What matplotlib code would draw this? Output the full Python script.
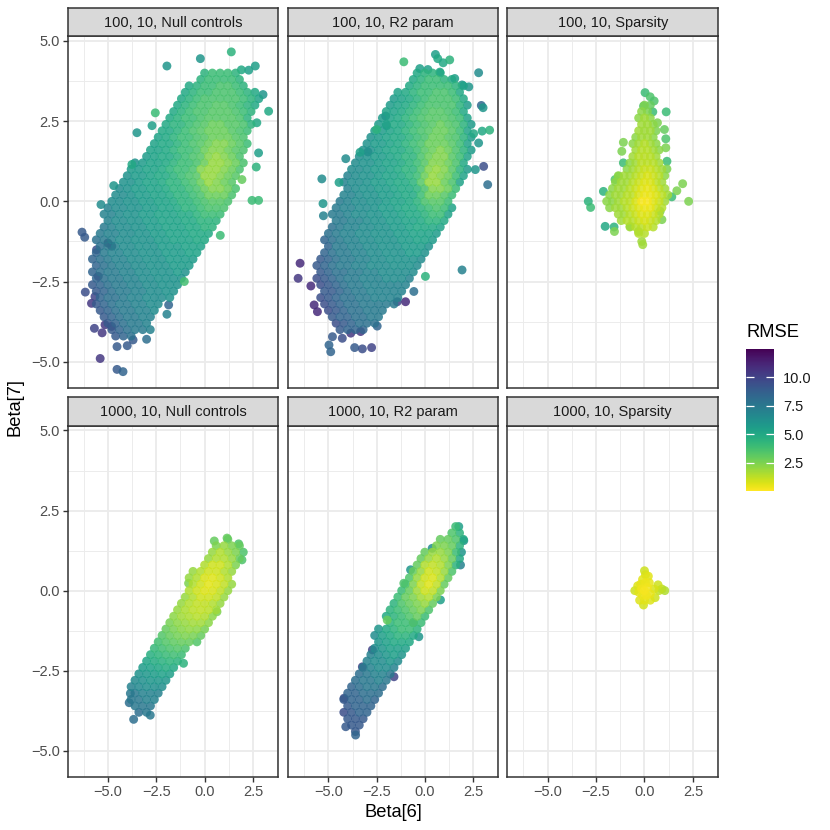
import numpy as np
import matplotlib
matplotlib.use("Agg")
import matplotlib.pyplot as plt
from matplotlib.colors import Normalize
from matplotlib.cm import ScalarMappable

plt.rcParams['font.family'] = ['Liberation Sans', 'DejaVu Sans']

# facet labels, row-major
panel_labels = ["100, 10, Null controls", "100, 10, R2 param", "100, 10, Sparsity",
                "1000, 10, Null controls", "1000, 10, R2 param", "1000, 10, Sparsity"]

x_ticks = [-5.0, -2.5, 0.0, 2.5]
x_tick_labels = ["\u22125.0", "\u22122.5", "0.0", "2.5"]
y_ticks = [-5.0, -2.5, 0.0, 2.5, 5.0]
y_tick_labels = ["\u22125.0", "\u22122.5", "0.0", "2.5", "5.0"]
cbar_ticks = [2.5, 5.0, 7.5, 10.0]
cbar_labels = ["2.5", "5.0", "7.5", "10.0"]
rmse_range = (0.03, 12.5)

# point clouds: (beta7, [beta6 ...], [rmse ...]) per row
nc100_rows = [
    (4.0, [0.0, 0.4, 0.8, 1.2, 1.6], [4.5, 4, 4, 4, 4.5]),
    (3.8, [-0.2, 0.2, 0.6, 1.0, 1.4, 1.8], [4.5, 4, 4, 4, 4, 4.5]),
    (3.6, [-0.8, -0.4, 0.0, 0.4, 0.8, 1.2, 1.6, 2.0], [5, 4.5, 4, 4, 3.6, 3.6, 4, 4.5]),
    (3.4, [-1.0, -0.6, -0.2, 0.2, 0.6, 1.0, 1.4, 1.8, 2.2, 2.6], [5, 4.5, 4, 4, 3.6, 3.6, 3.6, 4, 4.5, 5]),
    (3.2, [-1.2, -0.8, -0.4, 0.0, 0.4, 0.8, 1.2, 1.6, 2.0, 2.4, 2.8], [5, 4.5, 4, 3.6, 3.6, 3.6, 3.6, 3.6, 4, 4.5, 5.3]),
    (3.0, [-1.4, -1.0, -0.6, -0.2, 0.2, 0.6, 1.0, 1.4, 1.8, 2.2, 2.6], [5, 4.5, 4, 3.6, 3.6, 3.3, 3.3, 3.6, 4, 4.5, 5]),
    (2.8, [-1.6, -1.2, -0.8, -0.4, 0.0, 0.4, 0.8, 1.2, 1.6, 2.0, 2.4], [5, 4.5, 4, 3.6, 3.6, 3.3, 3.3, 3.3, 3.6, 4, 4.5]),
    (2.6, [-1.8, -1.4, -1.0, -0.6, -0.2, 0.2, 0.6, 1.0, 1.4, 1.8, 2.2], [5, 4.5, 4, 4, 3.6, 3.3, 3.3, 3.3, 3.3, 3.6, 4.5]),
    (2.4, [-2.0, -1.6, -1.2, -0.8, -0.4, 0.0, 0.4, 0.8, 1.2, 1.6, 2.0, 2.4], [5, 4.5, 4.5, 4, 3.6, 3.3, 2.9, 2.9, 3.3, 3.3, 3.6, 4.5]),
    (2.2, [-2.2, -1.8, -1.4, -1.0, -0.6, -0.2, 0.2, 0.6, 1.0, 1.4, 1.8, 2.2], [5, 5, 4.5, 4, 3.6, 3.3, 2.9, 2.9, 2.9, 3.3, 3.6, 4]),
    (2.0, [-2.4, -2.0, -1.6, -1.2, -0.8, -0.4, 0.0, 0.4, 0.8, 1.2, 1.6, 2.0], [5.3, 5, 4.5, 4, 4, 3.6, 3.3, 2.9, 2.9, 2.9, 3.3, 3.6]),
    (1.8, [-2.6, -2.2, -1.8, -1.4, -1.0, -0.6, -0.2, 0.2, 0.6, 1.0, 1.4, 1.8, 2.2], [5.3, 5, 5, 4.5, 4, 3.6, 3.3, 2.9, 2.4, 2.4, 2.9, 3.3, 4]),
    (1.6, [-2.8, -2.4, -2.0, -1.6, -1.2, -0.8, -0.4, 0.0, 0.4, 0.8, 1.2, 1.6, 2.0], [5.3, 5.3, 5, 4.5, 4, 4, 3.6, 2.9, 2.4, 2.4, 2.9, 3.3, 3.6]),
    (1.4, [-3.0, -2.6, -2.2, -1.8, -1.4, -1.0, -0.6, -0.2, 0.2, 0.6, 1.0, 1.4, 1.8], [5.7, 5.3, 5, 5, 4.5, 4, 3.6, 3.3, 2.4, 2, 2.4, 2.9, 3.6]),
    (1.2, [-3.6, -3.2, -2.8, -2.4, -2.0, -1.6, -1.2, -0.8, -0.4, 0.0, 0.4, 0.8, 1.2, 1.6, 2.0], [6.2, 5.7, 5.3, 5.3, 5, 4.5, 4, 4, 3.6, 2.9, 2, 2, 2.4, 2.9, 3.6]),
    (1.0, [-3.8, -3.4, -3.0, -2.6, -2.2, -1.8, -1.4, -1.0, -0.6, -0.2, 0.2, 0.6, 1.0, 1.4, 1.8], [5.7, 5.7, 5.3, 5.3, 5, 4.5, 4, 4, 3.6, 2.4, 2, 2, 2.4, 2.9, 3.6]),
    (0.8, [-4.0, -3.6, -3.2, -2.8, -2.4, -2.0, -1.6, -1.2, -0.8, -0.4, 0.0, 0.4, 0.8, 1.2, 1.6], [6.2, 5.7, 5.7, 5.3, 5, 5, 4.5, 4, 3.6, 3.3, 2, 2, 2.4, 2.9, 3.3]),
    (0.6, [-4.2, -3.8, -3.4, -3.0, -2.6, -2.2, -1.8, -1.4, -1.0, -0.6, -0.2, 0.2, 0.6, 1.0, 1.4], [6.2, 6.2, 5.7, 5.3, 5.3, 5, 4.5, 4.5, 4, 3.6, 2.9, 2, 2.4, 2.9, 3.3]),
    (0.4, [-4.4, -4.0, -3.6, -3.2, -2.8, -2.4, -2.0, -1.6, -1.2, -0.8, -0.4, 0.0, 0.4, 0.8, 1.2, 1.6], [6.5, 6.2, 5.7, 5.7, 5.3, 5.3, 5, 4.5, 4.5, 4, 3.6, 2.9, 2.4, 2.4, 2.9, 3.6]),
    (0.2, [-4.6, -4.2, -3.8, -3.4, -3.0, -2.6, -2.2, -1.8, -1.4, -1.0, -0.6, -0.2, 0.2, 0.6, 1.0, 1.4], [6.5, 6.5, 6.2, 5.7, 5.7, 5.3, 5.3, 5, 4.5, 4.5, 4, 3.6, 2.9, 2.9, 2.9, 3.6]),
    (0.0, [-4.8, -4.4, -4.0, -3.6, -3.2, -2.8, -2.4, -2.0, -1.6, -1.2, -0.8, -0.4, 0.0, 0.4, 0.8, 1.2], [6.5, 6.5, 6.2, 6.2, 5.7, 5.7, 5.3, 5.3, 5, 4.5, 4.5, 4, 3.6, 3.3, 3.3, 3.6]),
    (-0.2, [-5.0, -4.6, -4.2, -3.8, -3.4, -3.0, -2.6, -2.2, -1.8, -1.4, -1.0, -0.6, -0.2, 0.2, 0.6, 1.0], [6.9, 6.5, 6.5, 6.2, 6.2, 5.7, 5.7, 5.3, 5.3, 5, 4.5, 4.5, 4, 3.6, 3.6, 3.6]),
    (-0.4, [-5.2, -4.8, -4.4, -4.0, -3.6, -3.2, -2.8, -2.4, -2.0, -1.6, -1.2, -0.8, -0.4, 0.0, 0.4, 0.8], [6.9, 6.9, 6.5, 6.2, 6.2, 5.7, 5.7, 5.3, 5.3, 5.3, 5, 5, 4.5, 4, 4, 4]),
    (-0.6, [-5.0, -4.6, -4.2, -3.8, -3.4, -3.0, -2.6, -2.2, -1.8, -1.4, -1.0, -0.6, -0.2, 0.2, 0.6], [6.9, 6.5, 6.5, 6.2, 6.2, 5.7, 5.7, 5.3, 5.3, 5.3, 5, 5, 4.5, 4.5, 4.5]),
    (-0.8, [-5.2, -4.8, -4.4, -4.0, -3.6, -3.2, -2.8, -2.4, -2.0, -1.6, -1.2, -0.8, -0.4, 0.0, 0.4], [7.4, 6.9, 6.5, 6.5, 6.2, 6.2, 5.7, 5.7, 5.3, 5.3, 5.3, 5, 5, 4.5, 4.5]),
    (-1.0, [-5.4, -5.0, -4.6, -4.2, -3.8, -3.4, -3.0, -2.6, -2.2, -1.8, -1.4, -1.0, -0.6, -0.2, 0.2], [7.4, 6.9, 6.9, 6.5, 6.5, 6.2, 6.2, 5.7, 5.7, 5.3, 5.3, 5.3, 5, 5, 5]),
    (-1.2, [-5.6, -5.2, -4.8, -4.4, -4.0, -3.6, -3.2, -2.8, -2.4, -2.0, -1.6, -1.2, -0.8, -0.4, 0.0], [7.9, 7.4, 6.9, 6.5, 6.5, 6.2, 6.2, 6.2, 5.7, 5.7, 5.3, 5.3, 5.3, 5, 5]),
    (-1.4, [-5.4, -5.0, -4.6, -4.2, -3.8, -3.4, -3.0, -2.6, -2.2, -1.8, -1.4, -1.0, -0.6, -0.2], [7.9, 7.4, 6.9, 6.5, 6.5, 6.2, 6.2, 6.2, 5.7, 5.7, 5.7, 5.3, 5.3, 5.3]),
    (-1.6, [-5.6, -5.2, -4.8, -4.4, -4.0, -3.6, -3.2, -2.8, -2.4, -2.0, -1.6, -1.2, -0.8, -0.4], [8.5, 7.4, 6.9, 6.9, 6.5, 6.5, 6.2, 6.2, 6.2, 5.7, 5.7, 5.7, 5.3, 5.3]),
    (-1.8, [-5.8, -5.4, -5.0, -4.6, -4.2, -3.8, -3.4, -3.0, -2.6, -2.2, -1.8, -1.4, -1.0, -0.6], [8.5, 7.9, 7.4, 6.9, 6.9, 6.5, 6.5, 6.2, 6.2, 6.2, 5.7, 5.7, 5.7, 5.7]),
    (-2.0, [-5.6, -5.2, -4.8, -4.4, -4.0, -3.6, -3.2, -2.8, -2.4, -2.0, -1.6, -1.2, -0.8], [8.5, 7.9, 7.4, 6.9, 6.9, 6.5, 6.5, 6.2, 6.2, 6.2, 5.7, 5.7, 5.7]),
    (-2.2, [-5.8, -5.4, -5.0, -4.6, -4.2, -3.8, -3.4, -3.0, -2.6, -2.2, -1.8, -1.4, -1.0], [8.5, 7.9, 7.4, 7.4, 6.9, 6.9, 6.5, 6.5, 6.2, 6.2, 6.2, 5.7, 6.2]),
    (-2.4, [-5.6, -5.2, -4.8, -4.4, -4.0, -3.6, -3.2, -2.8, -2.4, -2.0, -1.6, -1.2], [8.5, 7.9, 7.4, 7.4, 6.9, 6.9, 6.5, 6.5, 6.2, 6.2, 6.2, 6.2]),
    (-2.6, [-5.8, -5.4, -5.0, -4.6, -4.2, -3.8, -3.4, -3.0, -2.6, -2.2, -1.8, -1.4], [9, 8.5, 7.9, 7.4, 7.4, 6.9, 6.9, 6.5, 6.5, 6.2, 6.2, 6.2]),
    (-2.8, [-5.6, -5.2, -4.8, -4.4, -4.0, -3.6, -3.2, -2.8, -2.4, -2.0, -1.6], [9, 8.5, 7.9, 7.4, 7.4, 6.9, 6.9, 6.5, 6.5, 6.2, 6.2]),
    (-3.0, [-5.4, -5.0, -4.6, -4.2, -3.8, -3.4, -3.0, -2.6, -2.2, -1.8], [8.5, 7.9, 7.9, 7.4, 6.9, 6.9, 6.5, 6.5, 6.5, 6.2]),
    (-3.2, [-5.6, -5.2, -4.8, -4.4, -4.0, -3.6, -3.2, -2.8, -2.4], [9, 8.5, 7.9, 7.4, 7.4, 6.9, 6.9, 6.5, 6.5]),
    (-3.4, [-5.4, -5.0, -4.6, -4.2, -3.8, -3.4, -3.0, -2.6], [9, 8.5, 7.9, 7.4, 7.4, 6.9, 6.9, 6.5]),
    (-3.6, [-5.2, -4.8, -4.4, -4.0, -3.6, -3.2, -2.8], [9, 8.5, 7.9, 7.4, 7.4, 6.9, 6.9]),
    (-3.8, [-5.0, -4.6, -4.2, -3.8, -3.4, -3.0], [9, 8.5, 7.9, 7.4, 7.4, 6.9]),
    (-4.0, [-4.8, -4.4, -4.0, -3.6, -3.2], [9, 8.5, 7.9, 7.4, 7.4]),
    (-4.2, [-4.6, -4.2, -3.8], [9, 8.5, 7.9]),
]
nc100_extra = [
    (1.38, 4.66, 4.5), (-0.22, 4.45, 6), (-1.95, 4.22, 6), (2.62, 4.22, 5.5), (2.28, 4.09, 5.5),
    (1.9, 4.1, 5), (3.02, 3.33, 6), (3.31, 2.81, 5), (2.7, 2.45, 5), (-2.55, 2.76, 4),
    (-2.72, 2.36, 5.5), (-3.5, 2.14, 6), (2.79, 1.51, 5.5), (2.67, 1.07, 4.5), (2.45, 0.03, 4),
    (2.79, 0.03, 4), (1.93, 0.68, 3), (0.81, -1.06, 4), (-1.05, -2.5, 3.8), (-3.76, 1.15, 5),
    (-4.7, 0.49, 6), (-5.36, -0.1, 6.5), (-6.34, -0.96, 9), (-6.2, -1.12, 9), (-6.17, -2.83, 9.5),
    (-5.7, -3.96, 10), (-5.4, -4.9, 10.5), (-4.53, -5.24, 9), (-4.22, -5.31, 8.5), (-4.53, -4.53, 9),
    (-1.86, -3.23, 8.5), (-1.95, -3.52, 7), (-2.81, -4.0, 7), (-3.7, -4.32, 9), (-3.0, -4.3, 8),
    (-4.0, -4.5, 9), (-5.0, -1.3, 11.5), (-4.8, -1.4, 11),
    (-5.85, -3.18, 10.5), (-5.67, -2.97, 10), (-5.15, -3.85, 10.5), (-4.81, -3.9, 10),
    (-5.59, -1.51, 9.5), (-5.5, -2.34, 10.5), (-5.3, -4.1, 10.5),
]

r2100_rows = [
    (4.0, [-0.4, 0.0, 0.4, 0.8], [5, 4.5, 4.5, 5]),
    (3.8, [-0.6, -0.2, 0.2, 0.6, 1.0, 1.4], [5, 4.5, 4, 4, 4.5, 5]),
    (3.6, [-0.8, -0.4, 0.0, 0.4, 0.8, 1.2, 1.6, 2.0], [5, 4.5, 4, 4, 4, 4, 4.5, 5.3]),
    (3.4, [-1.4, -1.0, -0.6, -0.2, 0.2, 0.6, 1.0, 1.4, 1.8], [5.3, 5, 4.5, 4, 4, 3.6, 3.6, 4, 5]),
    (3.2, [-1.6, -1.2, -0.8, -0.4, 0.0, 0.4, 0.8, 1.2, 1.6, 2.0], [5.7, 5.3, 5, 4.5, 4, 3.6, 3.6, 3.6, 4, 5]),
    (3.0, [-1.8, -1.4, -1.0, -0.6, -0.2, 0.2, 0.6, 1.0, 1.4, 1.8, 2.2], [5.7, 5.3, 5, 4.5, 4, 3.6, 3.6, 3.6, 3.6, 4.5, 5.7]),
    (2.8, [-2.0, -1.6, -1.2, -0.8, -0.4, 0.0, 0.4, 0.8, 1.2, 1.6, 2.0], [5.3, 5.3, 5, 4.5, 4, 3.6, 3.3, 3.3, 3.6, 4, 5]),
    (2.6, [-2.2, -1.8, -1.4, -1.0, -0.6, -0.2, 0.2, 0.6, 1.0, 1.4, 1.8, 2.2], [5.7, 5.3, 5, 4.5, 4, 3.6, 3.3, 3.3, 3.3, 3.6, 4, 5.3]),
    (2.4, [-2.4, -2.0, -1.6, -1.2, -0.8, -0.4, 0.0, 0.4, 0.8, 1.2, 1.6, 2.0, 2.4], [5.7, 5.3, 5, 5, 4.5, 4, 3.6, 3.3, 2.9, 3.3, 3.6, 4.5, 5.7]),
    (2.2, [-2.6, -2.2, -1.8, -1.4, -1.0, -0.6, -0.2, 0.2, 0.6, 1.0, 1.4, 1.8, 2.2], [5.7, 5.7, 5.3, 5, 4.5, 4, 3.6, 3.3, 2.9, 2.9, 3.3, 4, 5.3]),
    (2.0, [-2.8, -2.4, -2.0, -1.6, -1.2, -0.8, -0.4, 0.0, 0.4, 0.8, 1.2, 1.6, 2.0, 2.4], [6.2, 5.7, 5.3, 5, 5, 4.5, 4, 3.6, 2.9, 2.9, 3.3, 3.6, 4.5, 5.7]),
    (1.8, [-3.0, -2.6, -2.2, -1.8, -1.4, -1.0, -0.6, -0.2, 0.2, 0.6, 1.0, 1.4, 1.8, 2.2], [6.2, 5.7, 5.7, 5.3, 5, 4.5, 4, 3.6, 2.9, 2.9, 2.9, 3.3, 4, 5.3]),
    (1.6, [-3.2, -2.8, -2.4, -2.0, -1.6, -1.2, -0.8, -0.4, 0.0, 0.4, 0.8, 1.2, 1.6, 2.0, 2.4], [6.2, 6.2, 5.7, 5.3, 5, 5, 4.5, 4, 3.3, 2.9, 2.4, 2.9, 3.6, 4.5, 5.7]),
    (1.4, [-3.4, -3.0, -2.6, -2.2, -1.8, -1.4, -1.0, -0.6, -0.2, 0.2, 0.6, 1.0, 1.4, 1.8, 2.2], [6.5, 6.2, 5.7, 5.7, 5.3, 5, 4.5, 4.5, 3.6, 2.9, 2.4, 2.4, 3.3, 4, 5.3]),
    (1.2, [-3.6, -3.2, -2.8, -2.4, -2.0, -1.6, -1.2, -0.8, -0.4, 0.0, 0.4, 0.8, 1.2, 1.6, 2.0], [6.5, 6.2, 6.2, 5.7, 5.3, 5.3, 5, 4.5, 4, 3.3, 2.4, 2.4, 2.9, 3.6, 5]),
    (1.0, [-3.8, -3.4, -3.0, -2.6, -2.2, -1.8, -1.4, -1.0, -0.6, -0.2, 0.2, 0.6, 1.0, 1.4, 1.8, 2.2], [6.5, 6.5, 6.2, 5.7, 5.7, 5.3, 5, 4.5, 4.5, 3.6, 2.4, 2, 2.4, 3.3, 4.5, 5.7]),
    (0.8, [-4.0, -3.6, -3.2, -2.8, -2.4, -2.0, -1.6, -1.2, -0.8, -0.4, 0.0, 0.4, 0.8, 1.2, 1.6, 2.0], [6.9, 6.5, 6.2, 6.2, 5.7, 5.3, 5.3, 5, 4.5, 4, 2.9, 2, 2.4, 2.9, 4, 5.3]),
    (0.6, [-4.2, -3.8, -3.4, -3.0, -2.6, -2.2, -1.8, -1.4, -1.0, -0.6, -0.2, 0.2, 0.6, 1.0, 1.4, 1.8], [6.9, 6.5, 6.5, 6.2, 5.7, 5.7, 5.3, 5, 5, 4.5, 3.3, 2, 2, 2.9, 3.6, 5.3]),
    (0.4, [-4.0, -3.6, -3.2, -2.8, -2.4, -2.0, -1.6, -1.2, -0.8, -0.4, 0.0, 0.4, 0.8, 1.2, 1.6], [6.9, 6.5, 6.2, 6.2, 5.7, 5.7, 5.3, 5, 5, 4.5, 3.6, 2.4, 2.4, 2.9, 4]),
    (0.2, [-4.2, -3.8, -3.4, -3.0, -2.6, -2.2, -1.8, -1.4, -1.0, -0.6, -0.2, 0.2, 0.6, 1.0, 1.4], [6.9, 6.9, 6.5, 6.2, 6.2, 5.7, 5.7, 5.3, 5, 5, 4, 2.9, 2.9, 3.3, 4]),
    (0.0, [-4.4, -4.0, -3.6, -3.2, -2.8, -2.4, -2.0, -1.6, -1.2, -0.8, -0.4, 0.0, 0.4, 0.8, 1.2], [7.4, 6.9, 6.5, 6.5, 6.2, 6.2, 5.7, 5.3, 5.3, 5, 4.5, 3.6, 3.3, 3.3, 4]),
    (-0.2, [-4.6, -4.2, -3.8, -3.4, -3.0, -2.6, -2.2, -1.8, -1.4, -1.0, -0.6, -0.2, 0.2, 0.6, 1.0, 1.4], [7.4, 6.9, 6.9, 6.5, 6.5, 6.2, 5.7, 5.7, 5.3, 5, 5, 4.5, 4, 3.6, 4, 5.3]),
    (-0.4, [-4.8, -4.4, -4.0, -3.6, -3.2, -2.8, -2.4, -2.0, -1.6, -1.2, -0.8, -0.4, 0.0, 0.4, 0.8, 1.2], [7.4, 7.4, 6.9, 6.5, 6.5, 6.2, 6.2, 5.7, 5.7, 5.3, 5, 5, 4.5, 4, 4, 5.3]),
    (-0.6, [-4.6, -4.2, -3.8, -3.4, -3.0, -2.6, -2.2, -1.8, -1.4, -1.0, -0.6, -0.2, 0.2, 0.6, 1.0], [7.4, 7.4, 6.9, 6.9, 6.5, 6.2, 6.2, 5.7, 5.7, 5.3, 5.3, 5, 4.5, 4.5, 5]),
    (-0.8, [-4.8, -4.4, -4.0, -3.6, -3.2, -2.8, -2.4, -2.0, -1.6, -1.2, -0.8, -0.4, 0.0, 0.4, 0.8], [7.9, 7.4, 6.9, 6.9, 6.5, 6.5, 6.2, 6.2, 5.7, 5.7, 5.3, 5, 5, 5, 5.3]),
    (-1.0, [-5.0, -4.6, -4.2, -3.8, -3.4, -3.0, -2.6, -2.2, -1.8, -1.4, -1.0, -0.6, -0.2, 0.2, 0.6], [7.9, 7.4, 6.9, 6.9, 6.5, 6.5, 6.2, 6.2, 6.2, 5.7, 5.7, 5.3, 5.3, 5.3, 5.7]),
    (-1.2, [-5.2, -4.8, -4.4, -4.0, -3.6, -3.2, -2.8, -2.4, -2.0, -1.6, -1.2, -0.8, -0.4, 0.0, 0.4], [8.5, 7.9, 7.4, 6.9, 6.9, 6.5, 6.5, 6.2, 6.2, 6.2, 5.7, 5.7, 5.3, 5.3, 5.7]),
    (-1.4, [-5.0, -4.6, -4.2, -3.8, -3.4, -3.0, -2.6, -2.2, -1.8, -1.4, -1.0, -0.6, -0.2, 0.2], [8.5, 7.4, 7.4, 6.9, 6.9, 6.5, 6.5, 6.2, 6.2, 6.2, 5.7, 5.7, 5.7, 6.2]),
    (-1.6, [-5.2, -4.8, -4.4, -4.0, -3.6, -3.2, -2.8, -2.4, -2.0, -1.6, -1.2, -0.8, -0.4, 0.0], [8.5, 7.9, 7.4, 7.4, 6.9, 6.9, 6.5, 6.5, 6.2, 6.2, 6.2, 5.7, 5.7, 6.2]),
    (-1.8, [-5.4, -5.0, -4.6, -4.2, -3.8, -3.4, -3.0, -2.6, -2.2, -1.8, -1.4, -1.0, -0.6, -0.2], [9, 8.5, 7.9, 7.4, 7.4, 6.9, 6.9, 6.5, 6.5, 6.2, 6.2, 6.2, 6.2, 6.5]),
    (-2.0, [-5.6, -5.2, -4.8, -4.4, -4.0, -3.6, -3.2, -2.8, -2.4, -2.0, -1.6, -1.2, -0.8, -0.4], [9, 8.5, 7.9, 7.4, 7.4, 6.9, 6.9, 6.5, 6.5, 6.5, 6.2, 6.2, 6.2, 6.5]),
    (-2.2, [-5.4, -5.0, -4.6, -4.2, -3.8, -3.4, -3.0, -2.6, -2.2, -1.8, -1.4, -1.0, -0.6], [9, 8.5, 7.9, 7.9, 7.4, 7.4, 6.9, 6.9, 6.5, 6.5, 6.5, 6.5, 6.5]),
    (-2.4, [-5.6, -5.2, -4.8, -4.4, -4.0, -3.6, -3.2, -2.8, -2.4, -2.0, -1.6, -1.2, -0.8], [9.5, 9, 8.5, 7.9, 7.4, 7.4, 6.9, 6.9, 6.9, 6.5, 6.5, 6.5, 6.9]),
    (-2.6, [-5.4, -5.0, -4.6, -4.2, -3.8, -3.4, -3.0, -2.6, -2.2, -1.8, -1.4, -1.0], [9.5, 9, 8.5, 7.9, 7.4, 7.4, 6.9, 6.9, 6.9, 6.9, 6.9, 6.9]),
    (-2.8, [-5.2, -4.8, -4.4, -4.0, -3.6, -3.2, -2.8, -2.4, -2.0, -1.6, -1.2], [9, 9, 8.5, 7.9, 7.4, 7.4, 6.9, 6.9, 6.9, 6.9, 6.9]),
    (-3.0, [-5.4, -5.0, -4.6, -4.2, -3.8, -3.4, -3.0, -2.6, -2.2, -1.8, -1.4], [9.5, 9, 8.5, 7.9, 7.9, 7.4, 7.4, 6.9, 6.9, 6.9, 6.9]),
    (-3.2, [-5.2, -4.8, -4.4, -4.0, -3.6, -3.2, -2.8, -2.4, -2.0, -1.6], [9.5, 9, 8.5, 7.9, 7.9, 7.4, 7.4, 7.4, 7.4, 7.4]),
    (-3.4, [-5.0, -4.6, -4.2, -3.8, -3.4, -3.0, -2.6, -2.2], [9.5, 9, 8.5, 7.9, 7.9, 7.4, 7.4, 7.4]),
    (-3.6, [-4.8, -4.4, -4.0, -3.6, -3.2, -2.8, -2.4], [9, 8.5, 8.5, 7.9, 7.9, 7.4, 7.4]),
    (-3.8, [-4.6, -4.2, -3.8, -3.4, -3.0, -2.6], [9.5, 9, 8.5, 7.9, 7.9, 7.9]),
    (-4.0, [-4.4, -4.0, -3.6, -3.2], [9, 8.5, 8.5, 8.5]),
]
r2100_extra = [
    (0.55, 4.58, 5.5), (0.67, 4.45, 5), (0.95, 4.32, 5), (1.29, 4.41, 4.5), (-1.09, 4.35, 4),
    (-0.26, 4.14, 5.5), (0.16, 4.11, 5.5), (0.78, 4.03, 5), (2.79, 4.01, 6.5), (1.55, 3.83, 5.5),
    (1.93, 3.63, 6), (2.28, 3.57, 6), (2.93, 2.99, 8.5), (3.02, 2.92, 6), (2.53, 2.11, 5),
    (2.97, 2.19, 5), (3.36, 2.22, 4.5), (2.79, 1.82, 6), (3.05, 1.09, 9.5), (2.62, 0.99, 6),
    (3.26, 0.52, 8), (1.93, -2.14, 7), (0.03, -2.34, 4.5), (-2.03, 2.66, 7), (-1.98, 2.36, 6),
    (-2.5, 2.24, 4.5), (-2.95, 1.54, 7.5), (-3.36, 1.53, 5.5), (-4.1, 1.33, 6.5), (-5.34, 0.7, 6.5),
    (-4.45, 0.59, 5.5), (-5.28, -0.07, 6), (-5.26, -0.45, 7), (-6.47, -1.93, 11), (-6.57, -2.4, 10.5),
    (-5.91, -2.64, 11), (-5.74, -3.23, 11), (-5.57, -3.44, 11), (-4.79, -4.22, 9), (-4.97, -4.48, 8.5),
    (-4.88, -4.69, 8.5), (-4.28, -4.27, 9.5), (-3.84, -4.11, 10.5), (-3.33, -4.06, 10.5), (-3.64, -4.56, 9),
    (-3.24, -4.6, 9.5), (-2.76, -4.56, 10), (-2.47, -3.89, 8.5), (-1.43, -3.13, 10), (-1.0, -3.13, 11),
    (-0.57, -2.81, 8),
]

sp100_rows = [
    (3.0, [0.0, 0.3], [2.5, 3]),
    (2.8, [-0.15, 0.15], [2.2, 2.5]),
    (2.6, [-0.3, 0.0, 0.3], [2.2, 1.8, 2.2]),
    (2.4, [-0.15, 0.15, 0.45], [1.8, 1.8, 2.2]),
    (2.2, [-0.3, 0.0, 0.3, 0.6], [1.8, 1.8, 1.8, 2.5]),
    (2.0, [-0.45, -0.15, 0.15, 0.45], [2.2, 1.8, 1.8, 2.2]),
    (1.8, [-0.6, -0.3, 0.0, 0.3, 0.6], [2.2, 1.8, 1.4, 1.8, 2.2]),
    (1.6, [-0.45, -0.15, 0.15, 0.45, 0.75], [1.8, 1.4, 1.4, 1.8, 2.2]),
    (1.4, [-0.6, -0.3, 0.0, 0.3, 0.6], [1.8, 1.4, 1.3, 1.4, 1.8]),
    (1.2, [-0.75, -0.45, -0.15, 0.15, 0.45, 0.75], [2.2, 1.8, 1.3, 1.3, 1.4, 1.8]),
    (1.0, [-0.9, -0.6, -0.3, 0.0, 0.3, 0.6, 0.9], [2.2, 1.8, 1.4, 1.1, 1.1, 1.4, 1.8]),
    (0.8, [-1.35, -1.05, -0.75, -0.45, -0.15, 0.15, 0.45, 0.75, 1.05], [2.2, 1.8, 1.8, 1.4, 1.1, 0.8, 1.1, 1.4, 2.2]),
    (0.6, [-1.5, -1.2, -0.9, -0.6, -0.3, 0.0, 0.3, 0.6, 0.9], [2.2, 1.8, 1.8, 1.4, 1.1, 0.7, 0.8, 1.3, 1.8]),
    (0.4, [-1.65, -1.35, -1.05, -0.75, -0.45, -0.15, 0.15, 0.45, 0.75, 1.05], [2.2, 1.8, 1.8, 1.4, 1.1, 0.7, 0.5, 0.8, 1.3, 1.8]),
    (0.2, [-1.8, -1.5, -1.2, -0.9, -0.6, -0.3, 0.0, 0.3, 0.6, 0.9, 1.2], [2.2, 1.8, 1.8, 1.4, 1.3, 0.8, 0.4, 0.5, 0.8, 1.3, 1.8]),
    (0.0, [-1.95, -1.65, -1.35, -1.05, -0.75, -0.45, -0.15, 0.15, 0.45, 0.75, 1.05], [2.2, 2.2, 1.8, 1.4, 1.3, 0.8, 0.2, 0.2, 0.7, 1.1, 1.8]),
    (-0.2, [-1.8, -1.5, -1.2, -0.9, -0.6, -0.3, 0.0, 0.3, 0.6, 0.9], [2.2, 1.8, 1.8, 1.4, 1.1, 0.7, 0.4, 0.5, 1.1, 1.4]),
    (-0.4, [-1.35, -1.05, -0.75, -0.45, -0.15, 0.15, 0.45, 0.75], [1.8, 1.8, 1.4, 1.1, 0.7, 0.7, 1.1, 1.4]),
    (-0.6, [-1.2, -0.9, -0.6, -0.3, 0.0, 0.3, 0.6], [1.8, 1.4, 1.4, 1.1, 0.8, 1.1, 1.4]),
    (-0.8, [-0.75, -0.45, -0.15, 0.15, 0.45], [1.8, 1.4, 1.3, 1.1, 1.4]),
    (-1.0, [-0.3, 0.0], [1.4, 1.4]),
]
sp100_extra = [
    (0.03, 3.39, 4), (0.29, 3.26, 3.5), (0.5, 3.13, 3.5), (1.12, 2.79, 4), (0.43, 2.79, 4),
    (-0.05, 2.97, 3.5), (0.67, 2.45, 2.5), (1.03, 2.24, 3), (1.1, 1.95, 3.5), (1.1, 1.67, 2.5),
    (-1.09, 1.84, 2.5), (-1.17, 1.56, 2.5), (1.16, 1.25, 4), (1.16, 1.01, 2.5), (1.97, 0.55, 2.5),
    (1.67, 0.33, 2.5), (1.41, 0.14, 4), (2.28, 0.0, 2.5), (-2.9, 0.0, 4.5), (-2.78, -0.19, 4),
    (-2.12, 0.31, 4.5), (-2.03, -0.78, 5), (-1.57, -0.8, 4.5), (-1.55, -0.94, 2.5), (-0.14, -1.25, 1.8),
    (-0.09, -1.35, 1.8), (-0.31, -0.94, 2), (-0.74, -0.78, 2), (0.81, -0.31, 2.5), (0.9, -0.57, 2.5),
    (-1.09, 1.2, 4), (-1.34, 0.78, 2.5), (-1.52, 0.68, 3.5),
]

nc1000_rows = [
    (1.6, [1.2], [3]),
    (1.4, [0.6, 1.0, 1.4, 1.8], [2.5, 2, 2.5, 3]),
    (1.2, [0.4, 0.8, 1.2, 1.6, 2.0], [2, 1.5, 2, 2.5, 3.5]),
    (1.0, [0.2, 0.6, 1.0, 1.4, 1.8], [2, 1.5, 1.5, 2, 3]),
    (0.8, [0.0, 0.4, 0.8, 1.2, 1.6], [1.5, 1, 1, 1.5, 2.5]),
    (0.6, [-0.6, -0.2, 0.2, 0.6, 1.0, 1.4], [2, 1.5, 1, 1, 1.5, 2]),
    (0.4, [-0.8, -0.4, 0.0, 0.4, 0.8, 1.2], [2, 1.5, 0.8, 0.7, 1, 1.5]),
    (0.2, [-0.6, -0.2, 0.2, 0.6, 1.0, 1.4], [1.5, 1, 0.6, 0.8, 1.2, 2]),
    (0.0, [-0.8, -0.4, 0.0, 0.4, 0.8, 1.2], [1.5, 1, 0.7, 0.8, 1.2, 2]),
    (-0.2, [-1.0, -0.6, -0.2, 0.2, 0.6, 1.0], [2, 1.5, 1, 1, 1.2, 2]),
    (-0.4, [-1.2, -0.8, -0.4, 0.0, 0.4, 0.8], [2, 1.5, 1.2, 1.2, 1.5, 2]),
    (-0.6, [-1.4, -1.0, -0.6, -0.2, 0.2, 0.6], [2, 1.6, 1.3, 1.2, 1.3, 1.8]),
    (-0.8, [-1.6, -1.2, -0.8, -0.4, 0.0, 0.4], [2.2, 1.8, 1.6, 1.4, 1.5, 2.2]),
    (-1.0, [-1.8, -1.4, -1.0, -0.6, -0.2, 0.2], [2.6, 2.2, 2, 1.8, 1.8, 2.2]),
    (-1.2, [-2.0, -1.6, -1.2, -0.8, -0.4, 0.0], [3, 2.6, 2.3, 2.1, 2.2, 2.6]),
    (-1.4, [-2.2, -1.8, -1.4, -1.0, -0.6, -0.2], [3.4, 3, 2.7, 2.5, 2.6, 3]),
    (-1.6, [-2.4, -2.0, -1.6, -1.2, -0.8, -0.4], [3.8, 3.4, 3.1, 3, 3, 3.4]),
    (-1.8, [-2.6, -2.2, -1.8, -1.4, -1.0], [4.2, 3.9, 3.6, 3.4, 3.6]),
    (-2.0, [-2.8, -2.4, -2.0, -1.6, -1.2], [4.7, 4.4, 4.1, 3.9, 4]),
    (-2.2, [-3.0, -2.6, -2.2, -1.8, -1.4], [5.2, 4.9, 4.6, 4.4, 4.5]),
    (-2.4, [-3.2, -2.8, -2.4, -2.0, -1.6], [5.7, 5.4, 5.1, 4.9, 5]),
    (-2.6, [-3.4, -3.0, -2.6, -2.2, -1.8], [6.2, 5.9, 5.6, 5.4, 5.5]),
    (-2.8, [-3.6, -3.2, -2.8, -2.4, -2.0], [6.6, 6.3, 6, 5.9, 6]),
    (-3.0, [-3.8, -3.4, -3.0, -2.6, -2.2], [7, 6.7, 6.4, 6.3, 6.4]),
    (-3.2, [-3.6, -3.2, -2.8, -2.4], [7.5, 7, 7, 7]),
    (-3.4, [-3.8, -3.4, -3.0, -2.6], [7.5, 7.5, 7, 7]),
    (-3.6, [-3.6, -3.2, -2.8], [7.5, 7.5, 7.5]),
    (-3.8, [-3.4, -3.0], [8, 7.5]),
]
nc1000_extra = [
    (1.76, 1.46, 3.5), (1.93, 0.96, 3.5), (-1.09, -2.27, 4.5), (0.64, -0.66, 2.5), (-0.83, 0.23, 2.5),
    (-3.67, -4.02, 8), (-2.81, -3.89, 7.5), (-3.84, -3.21, 7.5), (1.16, 1.64, 3), (0.5, 1.55, 3),
    (-3.9, -3.5, 8),
]

r21000_rows = [
    (2.0, [1.6], [4]),
    (1.8, [1.4, 1.8], [3.5, 4.5]),
    (1.6, [0.8, 1.2, 1.6, 2.0], [3, 3, 3.5, 5]),
    (1.4, [0.6, 1.0, 1.4, 1.8], [2.5, 2.5, 3, 4.5]),
    (1.2, [0.0, 0.4, 0.8, 1.2, 1.6], [3, 2, 2, 2.5, 4]),
    (1.0, [-0.2, 0.2, 0.6, 1.0, 1.4, 1.8], [3, 2, 1.5, 2, 3, 5]),
    (0.8, [-0.4, 0.0, 0.4, 0.8, 1.2, 1.6], [3, 1.5, 1.2, 1.5, 2.5, 4.5]),
    (0.6, [-0.6, -0.2, 0.2, 0.6, 1.0, 1.4], [3, 2, 1, 1.2, 2, 3.5]),
    (0.4, [-0.8, -0.4, 0.0, 0.4, 0.8, 1.2], [3.5, 2, 1, 0.8, 1.5, 3]),
    (0.2, [-1.0, -0.6, -0.2, 0.2, 0.6, 1.0], [4, 2.5, 1.2, 0.7, 1.2, 3]),
    (0.0, [-1.2, -0.8, -0.4, 0.0, 0.4, 0.8], [4, 3, 1.8, 1, 1.2, 2.5]),
    (-0.2, [-1.4, -1.0, -0.6, -0.2, 0.2, 0.6], [4, 3, 2.5, 1.8, 1.5, 2.5]),
    (-0.4, [-1.6, -1.2, -0.8, -0.4, 0.0, 0.4], [4.5, 3.5, 3, 2.5, 2, 3]),
    (-0.6, [-1.8, -1.4, -1.0, -0.6, -0.2, 0.2], [4.5, 4, 3.5, 3, 2.5, 3.5]),
    (-0.8, [-2.0, -1.6, -1.2, -0.8, -0.4, 0.0], [5, 4.5, 4, 3.5, 3, 4]),
    (-1.0, [-1.8, -1.4, -1.0, -0.6, -0.2], [4.5, 4, 4, 3.5, 4]),
    (-1.2, [-2.4, -2.0, -1.6, -1.2, -0.8, -0.4], [6, 5, 4.5, 4, 4, 4.5]),
    (-1.4, [-2.6, -2.2, -1.8, -1.4, -1.0, -0.6], [6.5, 5.5, 5, 4.5, 4.5, 5]),
    (-1.6, [-2.4, -2.0, -1.6, -1.2, -0.8], [6, 5.5, 5, 5, 5]),
    (-1.8, [-2.6, -2.2, -1.8, -1.4, -1.0], [6.5, 6, 5.5, 5.5, 5.5]),
    (-2.0, [-2.8, -2.4, -2.0, -1.6, -1.2], [7, 6.5, 6, 5.5, 6]),
    (-2.2, [-3.0, -2.6, -2.2, -1.8, -1.4], [7, 6.5, 6.5, 6, 6.5]),
    (-2.4, [-3.2, -2.8, -2.4, -2.0, -1.6], [7.5, 7, 6.5, 6.5, 7]),
    (-2.6, [-3.4, -3.0, -2.6, -2.2, -1.8], [8, 7.5, 7, 7, 7.5]),
    (-2.8, [-3.6, -3.2, -2.8, -2.4, -2.0], [8, 7.5, 7.5, 7, 7.5]),
    (-3.0, [-3.8, -3.4, -3.0, -2.6, -2.2], [8.5, 8, 7.5, 7.5, 8]),
    (-3.2, [-4.0, -3.6, -3.2, -2.8, -2.4], [8.5, 8.5, 8, 8, 8]),
    (-3.4, [-4.2, -3.8, -3.4, -3.0, -2.6], [9, 8.5, 8.5, 8, 8.5]),
    (-3.6, [-4.0, -3.6, -3.2, -2.8], [9, 8.5, 8.5, 8.5]),
    (-3.8, [-4.2, -3.8, -3.4, -3.0], [9.5, 9, 8.5, 8.5]),
    (-4.0, [-4.0, -3.6, -3.2], [9, 9, 9]),
    (-4.2, [-3.8, -3.4], [9, 9]),
    (-4.4, [-3.6], [9]),
]
r21000_extra = [
    (1.76, 2.0, 5.5), (2.02, 1.56, 6), (-3.59, -4.51, 8.5), (-4.1, -4.25, 9), (-1.09, 0.23, 3.5),
    (-1.6, -2.69, 10), (-3.24, -2.38, 10), (0.81, -0.29, 5.5), (-1.95, -0.92, 3), (-0.31, -1.44, 6),
    (-2.72, -1.85, 10), (-0.74, 0.65, 6), (0.38, 1.32, 6.5), (1.9, 1.2, 6), (1.85, 0.8, 7),
    (-4.19, -3.36, 9.5), (-0.6, -1.0, 6),
]

sp1000_points = [
    (0.0, 0.0, 0.2), (0.15, 0.1, 0.3), (-0.15, 0.05, 0.3), (0.1, -0.15, 0.3), (-0.1, -0.15, 0.4),
    (0.05, 0.25, 0.4), (-0.1, 0.35, 0.6), (0.05, 0.5, 0.8), (0.0, 0.62, 1.0), (-0.2, 0.2, 0.5),
    (0.25, 0.25, 0.5), (0.3, -0.1, 0.5), (-0.3, -0.05, 0.6), (-0.5, 0.0, 1.0), (0.5, 0.05, 0.8),
    (0.75, 0.0, 1.2), (1.05, 0.0, 1.5), (0.7, 0.18, 1.0), (0.55, -0.22, 1.0), (0.0, -0.3, 0.6),
    (-0.05, -0.45, 0.9), (0.3, -0.3, 0.7), (-0.35, 0.15, 0.7), (0.2, 0.45, 0.6), (-0.25, -0.3, 0.7),
    (0.9, 0.05, 1.3),
]


def build(rows, extra):
    xs, ys, rs = [], [], []
    for yy, row_x, row_r in rows:
        for xx, rr in zip(row_x, row_r):
            xs.append(xx)
            ys.append(yy)
            rs.append(rr)
    for xx, yy, rr in extra:
        xs.append(xx)
        ys.append(yy)
        rs.append(rr)
    return np.array(xs), np.array(ys), np.array(rs)


panels = [build(nc100_rows, nc100_extra), build(r2100_rows, r2100_extra),
          build(sp100_rows, sp100_extra), build(nc1000_rows, nc1000_extra),
          build(r21000_rows, r21000_extra), build([], sp1000_points)]

W = H = 830.0


def box(x0, y0, x1, y1):
    # pixel box (top-left origin) -> figure fraction rect
    return [x0 / W, 1 - y1 / H, (x1 - x0) / W, (y1 - y0) / H]


col_x = [(67.7, 278.3), (288.3, 498.3), (507.3, 718.3)]
row_y = [(36.5, 388.0), (426.0, 777.0)]
strip_h = 28.5
xlim = (-7.08, 3.81)
ylim = (-5.82, 5.14)
GRID = "#EBEBEB"
DARK = "#333333"

cmap = plt.get_cmap("viridis_r")
norm = Normalize(*rmse_range)

fig = plt.figure(figsize=(8.3, 8.3), dpi=100)

for i, (label, (px, py, pr)) in enumerate(zip(panel_labels, panels)):
    ri, ci = divmod(i, 3)
    x0, x1 = col_x[ci]
    y0, y1 = row_y[ri]
    ax = fig.add_axes(box(x0, y0, x1, y1))
    order = np.argsort(-pr, kind="stable")
    ax.scatter(px[order], py[order], c=pr[order], cmap=cmap, norm=norm,
               s=41, alpha=0.85, linewidths=0, zorder=3)
    ax.set_xlim(xlim)
    ax.set_ylim(ylim)
    ax.set_xticks(x_ticks)
    ax.set_xticklabels(x_tick_labels)
    ax.set_yticks(y_ticks)
    ax.set_yticklabels(y_tick_labels)
    ax.set_xticks([-6.25, -3.75, -1.25, 1.25, 3.75], minor=True)
    ax.set_yticks([-3.75, -1.25, 1.25, 3.75], minor=True)
    ax.grid(which="major", color=GRID, lw=1.3, zorder=0)
    ax.grid(which="minor", color=GRID, lw=0.65, zorder=0)
    ax.set_axisbelow(True)
    for sp in ax.spines.values():
        sp.set_color(DARK)
        sp.set_linewidth(1.1)
        sp.set_zorder(5)
    ax.tick_params(which="minor", length=0)
    ax.tick_params(which="major", length=3.3, width=1.0, color=DARK,
                   labelsize=10.5, labelcolor="#4D4D4D", pad=2.4)
    if ci > 0:
        ax.tick_params(axis="y", left=False, labelleft=False)
    if ri == 0:
        ax.tick_params(axis="x", bottom=False, labelbottom=False)

    # facet strip
    sax = fig.add_axes(box(x0, y0 - strip_h, x1, y0))
    sax.set_facecolor("#D9D9D9")
    sax.set_xticks([])
    sax.set_yticks([])
    for sp in sax.spines.values():
        sp.set_color(DARK)
        sp.set_linewidth(1.1)
    sax.text(0.5, 0.48, label, ha="center", va="center", fontsize=10.5,
             color="#1A1A1A", transform=sax.transAxes)

# axis titles
fig.text(393 / W, 1 - 812 / H, "Beta[6]", ha="center", va="center", fontsize=13.2)
fig.text(15 / W, 1 - 407 / H, "Beta[7]", ha="center", va="center", rotation=90, fontsize=13.2)

# colour bar legend
cax = fig.add_axes(box(746, 349, 774.3, 491))
cb = fig.colorbar(ScalarMappable(norm=norm, cmap=cmap), cax=cax)
cb.outline.set_visible(False)
cb.set_ticks(cbar_ticks)
cb.set_ticklabels(cbar_labels)
cax.tick_params(direction="in", length=5.5, width=0.9, color="white",
                left=True, right=True, labelsize=10.5, labelcolor="#1A1A1A", pad=6.5)
fig.text(746 / W, 1 - 332 / H, "RMSE", ha="left", va="center", fontsize=13.2)

fig.savefig("out.png", dpi=100)
